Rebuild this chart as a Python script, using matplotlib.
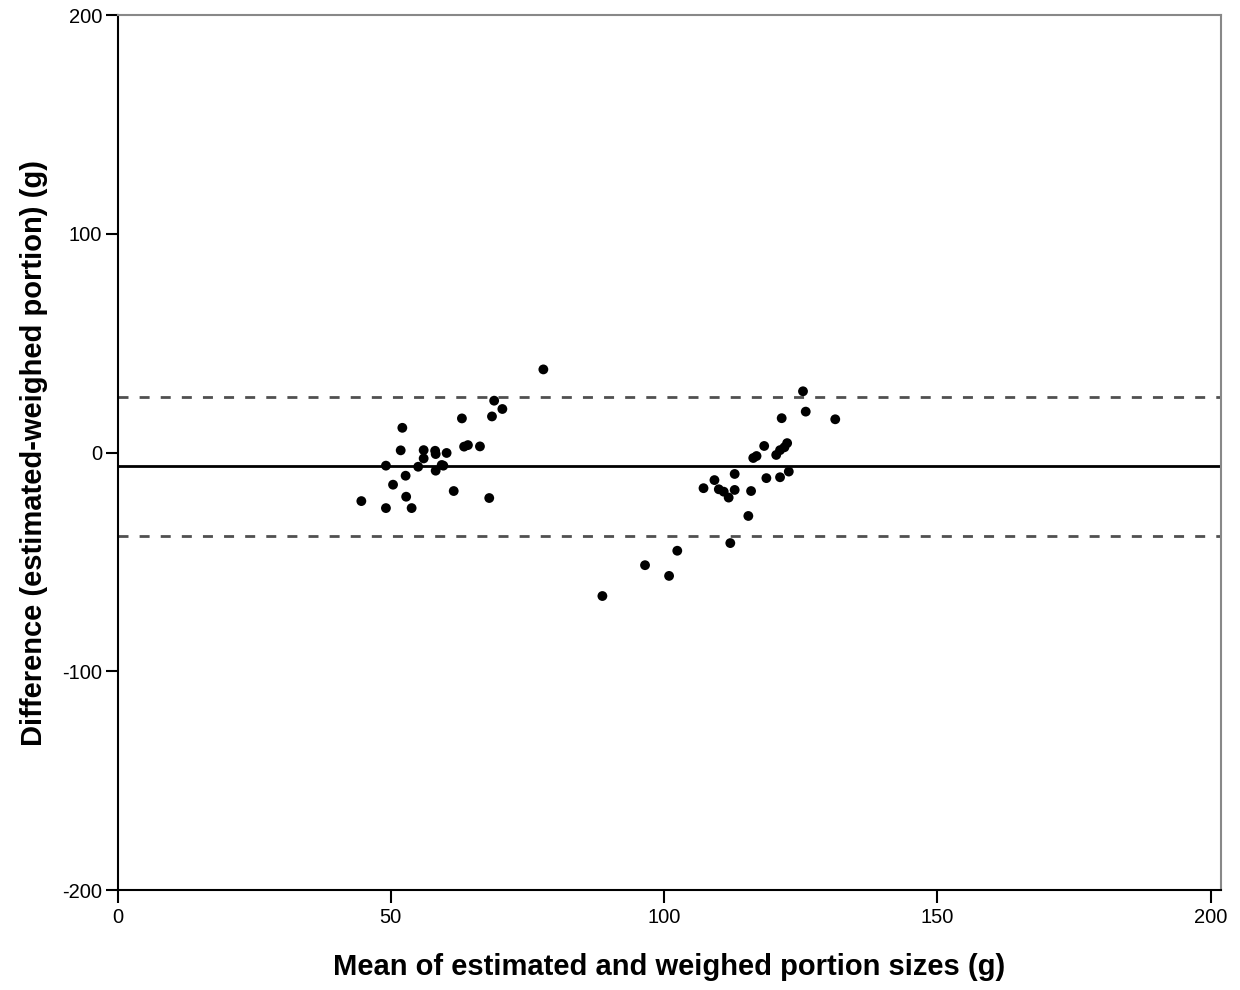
""" Bland-Altman plot of estimated vs weighed portion sizes """

import matplotlib
matplotlib.use("Agg")
import matplotlib.pyplot as plt

# mean of estimated and weighed portion (g)
meanPortion = [77.9, 68.9, 70.4, 68.5, 63.0, 52.1, 63.4, 64.1, 66.3, 51.8,
               56.0, 58.1, 60.2, 56.0, 58.2, 49.1, 55.0, 59.3, 59.6, 58.2,
               52.7, 50.4, 61.5, 68.0, 44.6, 52.8, 49.1, 53.8,
               125.4, 125.9, 121.5, 131.3, 118.3, 122.5, 122.0, 121.2, 120.5,
               116.9, 116.3, 112.9, 109.2, 122.8, 118.7, 121.2, 107.2, 110.0,
               110.9, 112.9, 111.8, 115.9, 115.4, 112.1, 102.4, 96.5, 100.9,
               88.7]
# difference estimated - weighed (g)
diffPortion = [38.0, 23.7, 19.9, 16.5, 15.6, 11.3, 2.7, 3.4, 2.8, 1.0,
               1.1, 0.8, -0.2, -2.7, -0.7, -6.0, -6.5, -5.7, -6.0, -8.3,
               -10.6, -14.7, -17.6, -20.8, -22.2, -20.2, -25.4, -25.4,
               28.0, 18.7, 15.7, 15.2, 3.0, 4.3, 2.4, 1.1, -1.1,
               -1.6, -2.5, -9.8, -12.6, -8.7, -11.7, -11.3, -16.3, -16.8,
               -17.9, -17.1, -20.6, -17.6, -29.0, -41.4, -44.9, -51.5, -56.4,
               -65.6]

meanDiff = -6.2
upperLimit = 25.4
lowerLimit = -38.2

xTicks = [0, 50, 100, 150, 200]
yTicks = [-200, -100, 0, 100, 200]

plt.rcParams['font.family'] = ['Liberation Sans', 'DejaVu Sans']
plt.rcParams['axes.unicode_minus'] = False

fig = plt.figure(figsize=(12.4, 9.9), dpi=100)
ax = fig.add_axes([0.0948, 0.101, 0.89, 0.8838])

ax.axhline(meanDiff, color='black', linewidth=2.0, zorder=1)
ax.axhline(upperLimit, color='#505050', linewidth=2.0, dashes=(3.6, 4.0), zorder=1)
ax.axhline(lowerLimit, color='#505050', linewidth=2.0, dashes=(3.6, 4.0), zorder=1)

ax.scatter(meanPortion, diffPortion, s=50, color='black', edgecolors='none', zorder=3)

ax.set_xlim(0, 201.9)
ax.set_ylim(-200, 200)
ax.set_xticks(xTicks)
ax.set_yticks(yTicks)
ax.tick_params(direction='out', length=9, width=1.5, labelsize=14.5,
               colors='black', pad=2)
ax.tick_params(axis='x', pad=4)

for side in ['top', 'right']:
    ax.spines[side].set_color('#888888')
    ax.spines[side].set_linewidth(1.5)
for side in ['left', 'bottom']:
    ax.spines[side].set_color('black')
    ax.spines[side].set_linewidth(1.5)

ax.set_xlabel('Mean of estimated and weighed portion sizes (g)', fontsize=21,
              fontweight='bold', labelpad=19)
ax.set_ylabel('Difference (estimated-weighed portion) (g)', fontsize=21,
              fontweight='bold', labelpad=10)

plt.savefig('out.png', dpi=100)
